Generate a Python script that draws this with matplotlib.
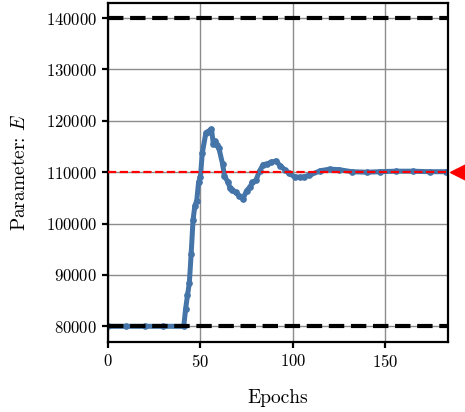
import matplotlib
matplotlib.use("Agg")
import matplotlib.pyplot as plt
import matplotlib.transforms as mtransforms

plt.rcParams['font.family'] = 'serif'
plt.rcParams['font.serif'] = ['cmr10']
plt.rcParams['mathtext.fontset'] = 'cm'
plt.rcParams['axes.formatter.use_mathtext'] = True

# parameter trace
epochs = [0, 10, 20, 30, 41, 42, 43, 44, 45, 46, 47, 48, 49, 50, 51, 53,
          54, 56, 57, 58, 59, 60, 62, 63, 65, 66, 67, 69, 71, 73, 75, 77,
          78, 80, 82, 84, 86, 88, 91, 93, 96, 98, 101, 104, 106, 109, 115,
          120, 125, 132, 140, 147, 156, 165, 174, 183]
values = [80000, 80000, 80000, 80000, 80000, 83400, 86000, 88400, 94100,
          100600, 103500, 104400, 108000, 109000, 113700, 117700, 117900,
          118400, 115500, 116100, 115300, 114700, 111600, 109300, 108000,
          107000, 106500, 106100, 105400, 104800, 106400, 107200, 108000,
          108400, 110200, 111500, 111600, 111900, 112200, 111300, 110400,
          109800, 109100, 109000, 109100, 109400, 110300, 110600, 110500,
          110100, 110000, 110100, 110200, 110200, 110100, 110100]

lower_bound = 80000
upper_bound = 140000
true_value = 110000

fig = plt.figure(figsize=(4.65, 4.12), dpi=100)
ax = fig.add_axes([0.2323, 0.1706, 0.7311, 0.8228])

ax.grid(True, color='#8c8c8c', linewidth=1.0, zorder=0)
ax.plot(epochs, values, color='#4474a8', linewidth=3.6, marker='o',
        markersize=3.8, zorder=2)
ax.axhline(lower_bound, color='black', linestyle='--', linewidth=3.0, zorder=3)
ax.axhline(upper_bound, color='black', linestyle='--', linewidth=3.0, zorder=3)
ax.axhline(true_value, color='red', linestyle='--', linewidth=1.6, zorder=3)

# red marker for the true value, just outside the right spine
trans = mtransforms.blended_transform_factory(ax.transAxes, ax.transData)
ax.plot([1.035], [true_value], marker='<', color='red', markersize=14.5,
        transform=trans, clip_on=False, zorder=5)

ax.set_xlim(0, 184)
ax.set_ylim(77000, 143000)
ax.set_xticks([0, 50, 100, 150])
ax.set_yticks([80000, 90000, 100000, 110000, 120000, 130000, 140000])

for s in ax.spines.values():
    s.set_linewidth(1.6)
ax.tick_params(direction='out', length=4.5, width=1.6, labelsize=12)

ax.set_xlabel('Epochs', fontsize=14, labelpad=14)
ax.set_ylabel('Parameter: $E$', fontsize=14, labelpad=12)

fig.savefig('out.png', dpi=100)
